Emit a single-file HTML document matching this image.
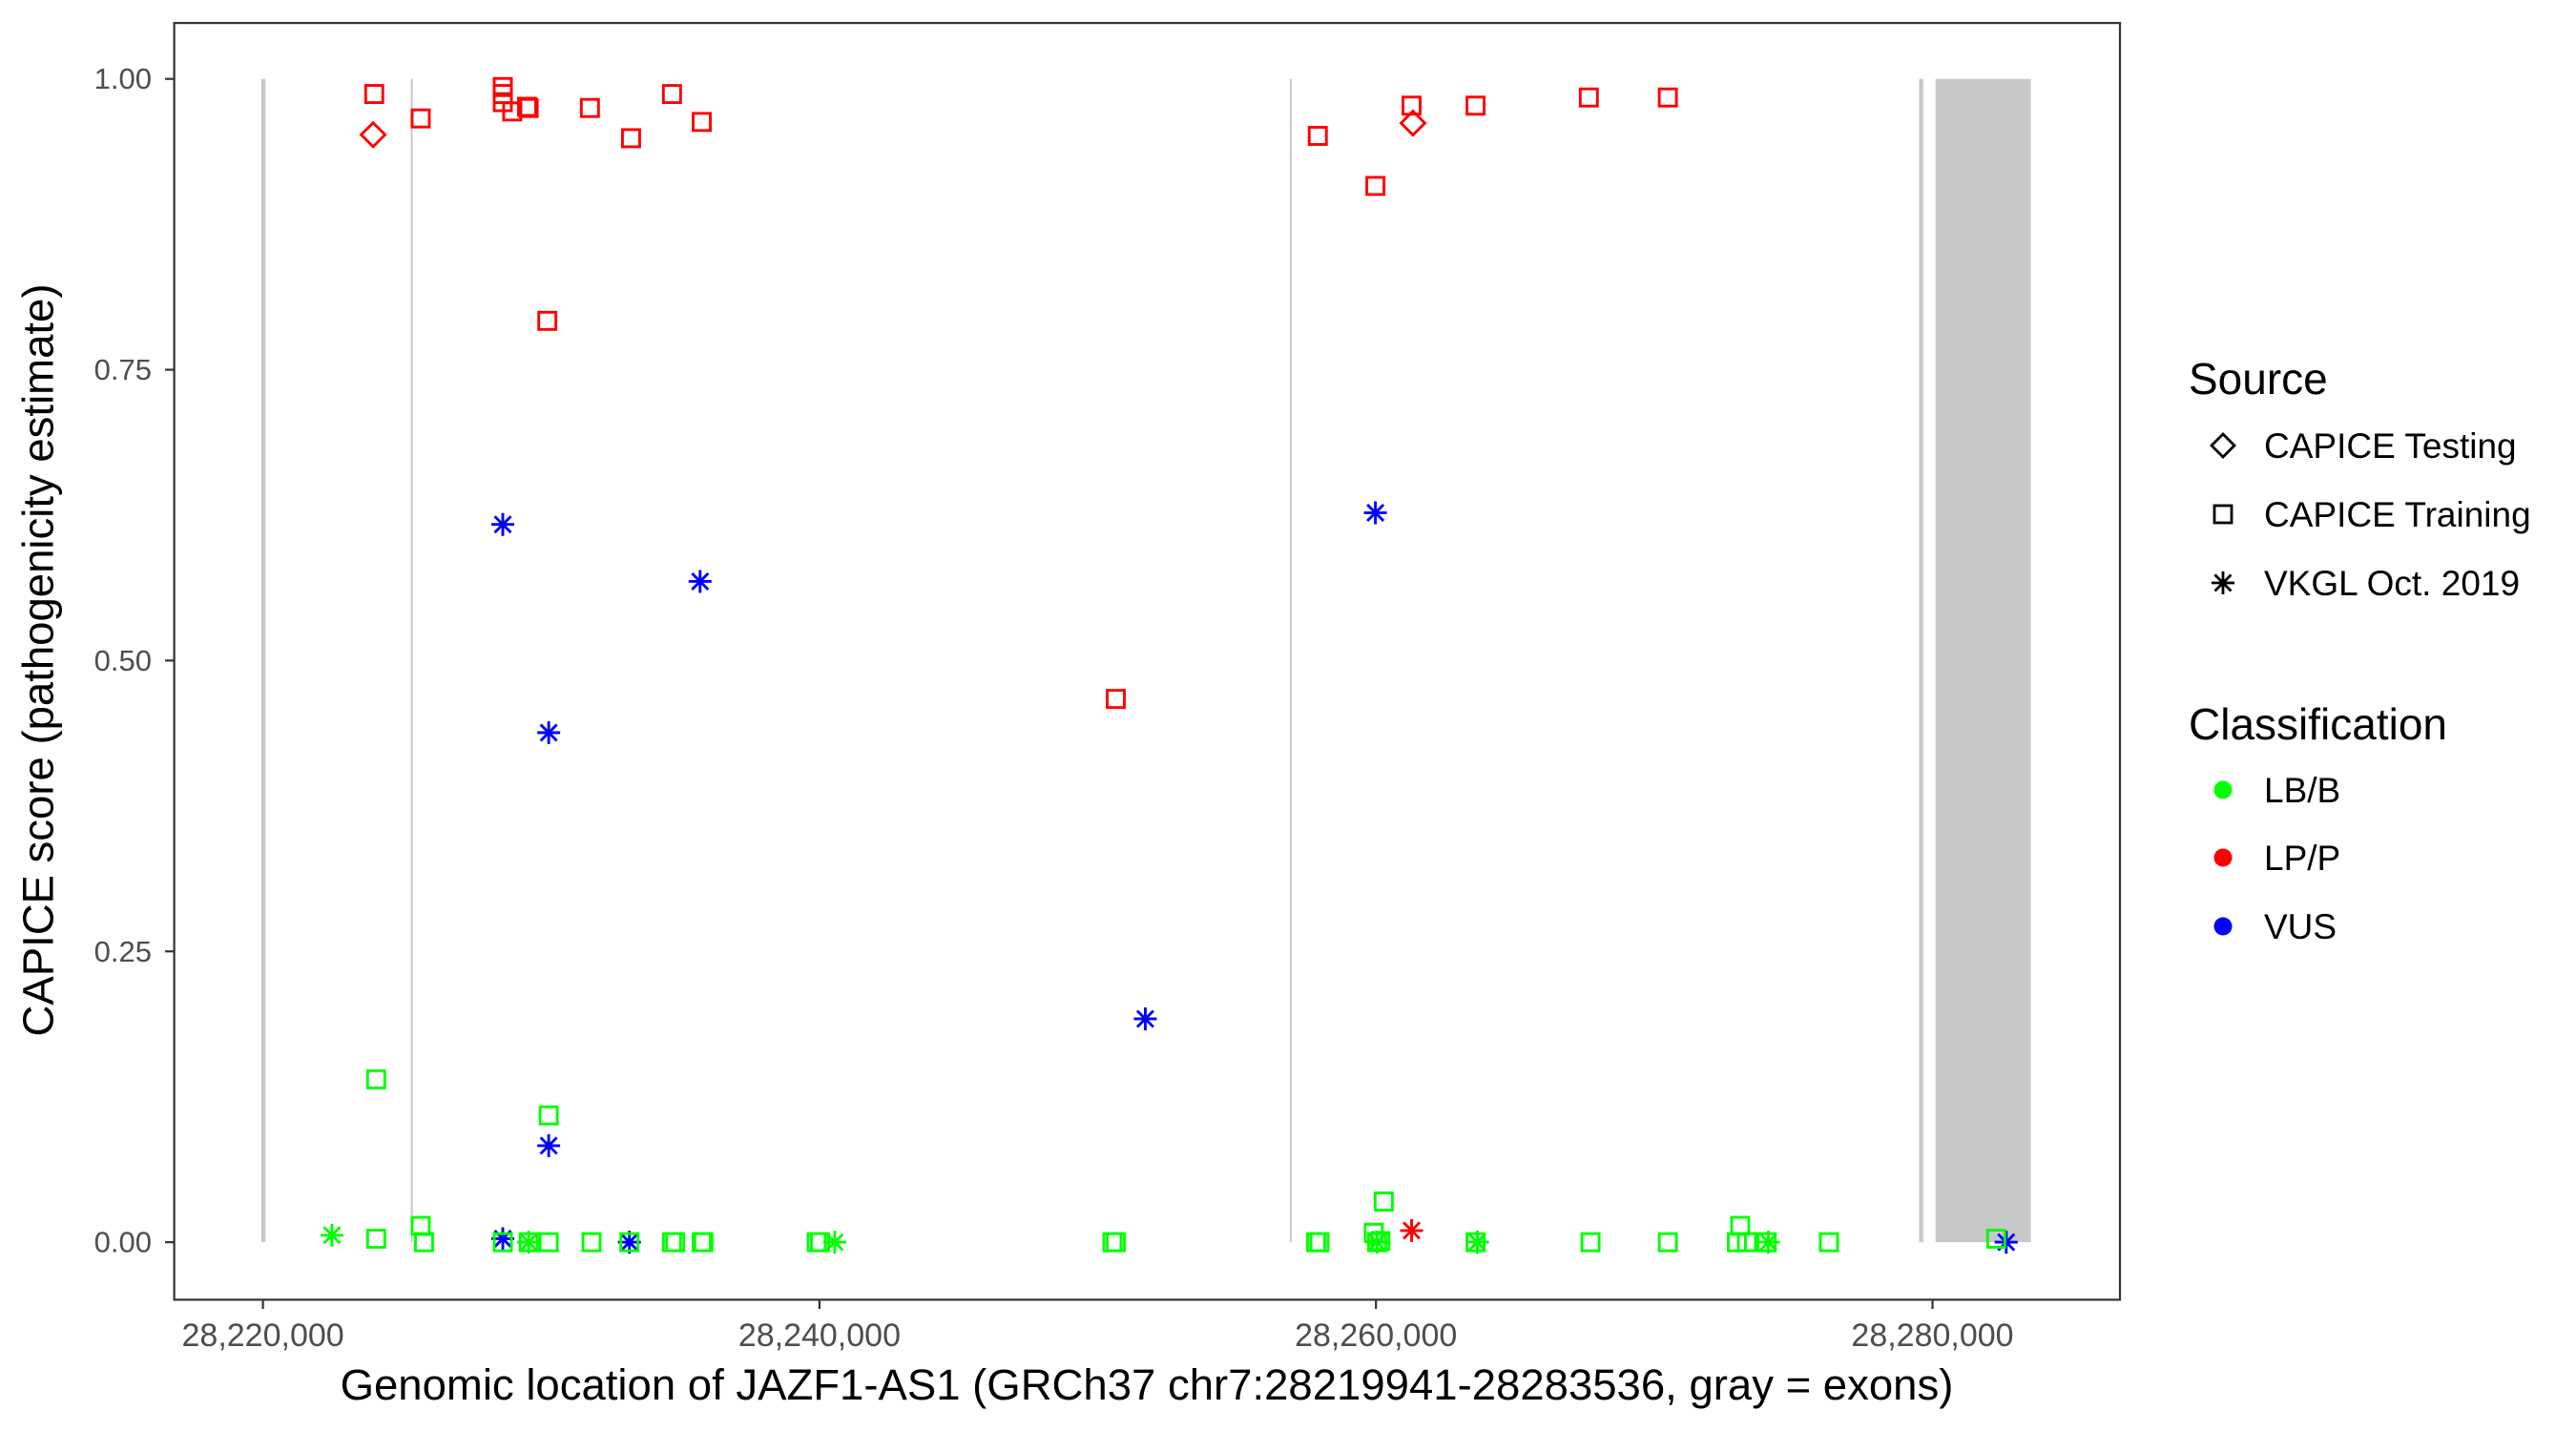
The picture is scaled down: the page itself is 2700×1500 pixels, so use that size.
<!DOCTYPE html>
<html><head><meta charset="utf-8"><style>
html,body{margin:0;padding:0;background:#fff;}
svg{display:block;font-family:"Liberation Sans",Arial,sans-serif;}
</style></head><body>
<svg id="chart" width="2700" height="1500" viewBox="0 0 2700 1500" xmlns="http://www.w3.org/2000/svg">
<rect x="0" y="0" width="2700" height="1500" fill="#fff"/>
<g id="exons"></g>
<g id="points"></g>
<rect x="182.6" y="24.1" width="2039.4" height="1338.3" fill="none" stroke="#333" stroke-width="2.2"/>
<g id="yaxis"></g>
<g id="xaxis"></g>
<text x="40" y="692" transform="rotate(-90 40 692)" text-anchor="middle" dominant-baseline="central" font-size="45.5" fill="#000">CAPICE score (pathogenicity estimate)</text>
<text x="1202" y="1467" text-anchor="middle" font-size="45.5" fill="#000">Genomic location of JAZF1-AS1 (GRCh37 chr7:28219941-28283536, gray = exons)</text>
<g>
<text x="2294" y="413" font-size="46" fill="#000">Source</text>
<g>
<path d="M2318,467 l12,-12 l12,12 l-12,12 z" fill="none" stroke="#000" stroke-width="2.8"/>
<text x="2373" y="480" font-size="37" fill="#000">CAPICE Testing</text></g>
<g>
<rect x="2321" y="530" width="18" height="18" fill="none" stroke="#000" stroke-width="2.8"/>
<text x="2373" y="552" font-size="37" fill="#000">CAPICE Training</text></g>
<g stroke="#000" stroke-width="2.8">
<path d="M2318,611 h24 M2330,599 v24 M2321.5,602.5 l17,17 M2338.5,602.5 l-17,17"/>
<text x="2373" y="624" font-size="37" fill="#000" stroke="none">VKGL Oct. 2019</text></g>
</g>
<g>
<text x="2294" y="775" font-size="46" fill="#000">Classification</text>
<circle cx="2330" cy="828" r="9.5" fill="#00ff00"/>
<text x="2373" y="841" font-size="37" fill="#000">LB/B</text>
<circle cx="2330" cy="899" r="9.5" fill="#ff0000"/>
<text x="2373" y="912" font-size="37" fill="#000">LP/P</text>
<circle cx="2330" cy="971" r="9.5" fill="#0000ff"/>
<text x="2373" y="984" font-size="37" fill="#000">VUS</text>
</g>
</svg>
<script>
// ---- data ----
const yTicks = [0, 0.25, 0.5, 0.75, 1.0];
const yTickLabels = ["0.00", "0.25", "0.50", "0.75", "1.00"];
const xTicks = [28220000, 28240000, 28260000, 28280000];
const xTickLabels = ["28,220,000", "28,240,000", "28,260,000", "28,280,000"];
const exonStarts = [28219941, 28225315, 28256903, 28279520, 28280110];
const exonEnds   = [28220090, 28225370, 28256958, 28279670, 28283536];
// Points: position, score, source (D=Testing, S=Training, V=VKGL), class
const pointPos = [
 28224000,28225670,28228620,28228620,28228620,28228960,28229490,28229550,28231750,28233230,28234700,28235770,28230220,28250650,28257910,28259980,28261280,28263580,28267650,28270490,
 28223960,28261330,
 28261280,
 28228620,28235710,28230270,28251710,28230270,28259980,28228620,28233170,28263640,28282650,
 28222480,28240550,28229550,28263640,28274100,28260040,
 28224070,28230270,28224070,28225670,28225790,28228620,28229550,28230270,28231810,28233170,28234700,28234820,28235770,28235830,28239900,28240020,28250530,28250650,28257850,28257970,28259920,28260040,28260160,28260280,28263580,28267710,28270490,28272970,28273090,28273330,28274040,28276280,28282290
];
const pointScore = [
 0.987,0.966,0.993,0.987,0.980,0.972,0.976,0.975,0.975,0.949,0.987,0.963,0.792,0.467,0.951,0.908,0.977,0.977,0.984,0.984,
 0.952,0.962,
 0.010,
 0.617,0.568,0.438,0.192,0.083,0.627,0.003,0.0,0.0,0.0,
 0.006,0.0,0.0,0.0,0.0,0.0,
 0.140,0.109,0.003,0.014,0.0,0.0,0.0,0.0,0.0,0.0,0.0,0.0,0.0,0.0,0.0,0.0,0.0,0.0,0.0,0.0,0.008,0.0,0.001,0.035,0.0,0.0,0.0,0.0,0.014,0.0,0.0,0.0,0.003
];
const pointSource = [
 "S","S","S","S","S","S","S","S","S","S","S","S","S","S","S","S","S","S","S","S",
 "D","D",
 "V",
 "V","V","V","V","V","V","V","V","V","V",
 "V","V","V","V","V","V",
 "S","S","S","S","S","S","S","S","S","S","S","S","S","S","S","S","S","S","S","S","S","S","S","S","S","S","S","S","S","S","S","S","S"
];
const pointClass = [
 "LP","LP","LP","LP","LP","LP","LP","LP","LP","LP","LP","LP","LP","LP","LP","LP","LP","LP","LP","LP",
 "LP","LP",
 "LP",
 "VUS","VUS","VUS","VUS","VUS","VUS","VUS","VUS","VUS","VUS",
 "LB","LB","LB","LB","LB","LB",
 "LB","LB","LB","LB","LB","LB","LB","LB","LB","LB","LB","LB","LB","LB","LB","LB","LB","LB","LB","LB","LB","LB","LB","LB","LB","LB","LB","LB","LB","LB","LB","LB","LB"
];
const classColor = {LB:"#00ff00", LP:"#ff0000", VUS:"#0000ff"};

// ---- axes ----
const NS = "http://www.w3.org/2000/svg";
function xS(p){ return 275.6 + (p - 28220000) / 20000 * 583.3; }
function yS(v){ return 1302.1 - v * 1219.4; }
function mk(tag, attrs, parent){
  const e = document.createElementNS(NS, tag);
  for (const k in attrs) e.setAttribute(k, attrs[k]);
  parent.appendChild(e);
  return e;
}
const gEx = document.getElementById('exons');
for (let i = 0; i < exonStarts.length; i++){
  const x1 = xS(exonStarts[i]), x2 = xS(exonEnds[i]);
  const r = mk('rect', {x: x1, y: yS(1), width: Math.max(x2 - x1, 2), height: yS(0) - yS(1), fill: '#c8c8c8'}, gEx);
  
  
}
const gY = document.getElementById('yaxis');
yTicks.forEach((v, i) => {
  const y = yS(v);
  const t = mk('line', {x1: 173, x2: 182.6, y1: y, y2: y, stroke: '#333', 'stroke-width': 2.2}, gY);
  
  
  const l = mk('text', {x: 159, y: y, 'text-anchor': 'end', 'dominant-baseline': 'central', 'font-size': 31, fill: '#4d4d4d'}, gY);
  l.textContent = yTickLabels[i];
  
  
});
const gX = document.getElementById('xaxis');
xTicks.forEach((p, i) => {
  const x = xS(p);
  const t = mk('line', {x1: x, x2: x, y1: 1362.4, y2: 1372, stroke: '#333', 'stroke-width': 2.2}, gX);
  
  
  const l = mk('text', {x: x, y: 1411, 'text-anchor': 'middle', 'font-size': 34, fill: '#4d4d4d'}, gX);
  l.textContent = xTickLabels[i];
  
  
});

// ---- points ----
const gP = document.getElementById('points');
for (let i = 0; i < pointPos.length; i++){
  const cx = xS(pointPos[i]), cy = yS(pointScore[i]);
  const c = classColor[pointClass[i]];
  let e;
  if (pointSource[i] === 'S'){
    e = mk('rect', {x: cx - 9, y: cy - 9, width: 18, height: 18, fill: 'none', stroke: c, 'stroke-width': 2.9}, gP);
    
  } else if (pointSource[i] === 'D'){
    e = mk('path', {d: `M${cx-12.5},${cy} L${cx},${cy-12.5} L${cx+12.5},${cy} L${cx},${cy+12.5} Z`, fill: 'none', stroke: c, 'stroke-width': 2.9}, gP);
    
  } else {
    e = mk('path', {d: `M${cx-12},${cy} H${cx+12} M${cx},${cy-12} V${cy+12} M${cx-8.5},${cy-8.5} L${cx+8.5},${cy+8.5} M${cx+8.5},${cy-8.5} L${cx-8.5},${cy+8.5}`, fill: 'none', stroke: c, 'stroke-width': 2.9}, gP);
    
  }
  
}
</script>
</body></html>
